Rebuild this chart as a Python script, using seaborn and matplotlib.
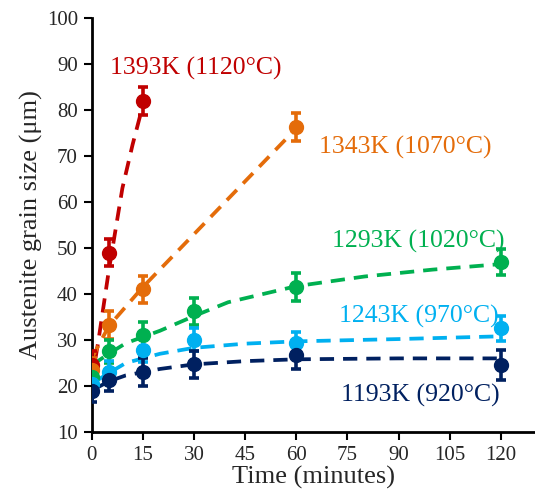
import matplotlib
matplotlib.use("Agg")
import matplotlib.pyplot as plt
import seaborn as sns
import pandas as pd

# Measured austenite grain size (um) vs holding time (minutes)
labels = ["1393K (1120°C)", "1343K (1070°C)", "1293K (1020°C)",
          "1243K (970°C)", "1193K (920°C)"]
colors = ["#C00000", "#E46C0A", "#00B050", "#00B0F0", "#002060"]

t_1393 = [0, 5, 15]
d_1393 = [24.5, 49.0, 82.0]
e_1393 = [3.0, 3.0, 3.0]

t_1343 = [0, 5, 15, 60]
d_1343 = [23.5, 33.3, 41.0, 76.3]
e_1343 = [2.5, 3.0, 3.0, 3.0]

t_1293 = [0, 5, 15, 30, 60, 120]
d_1293 = [22.0, 27.5, 31.0, 36.2, 41.5, 46.9]
e_1293 = [2.5, 2.5, 3.0, 3.0, 3.0, 2.8]

t_1243 = [0, 5, 15, 30, 60, 120]
d_1243 = [20.5, 23.0, 27.8, 30.0, 29.3, 32.5]
e_1243 = [2.5, 2.5, 2.5, 2.5, 2.5, 2.7]

t_1193 = [0, 5, 15, 30, 60, 120]
d_1193 = [19.0, 21.3, 23.0, 24.7, 26.7, 24.6]
e_1193 = [2.5, 2.5, 3.0, 3.0, 3.0, 3.2]

# Grain growth fit curves
ft_1393 = [0, 2, 5, 9, 12, 15]
fd_1393 = [21.0, 30.0, 45.0, 63.0, 72.5, 81.0]
ft_1343 = [0, 5, 15, 30, 45, 60]
fd_1343 = [26.0, 33.0, 41.5, 53.0, 64.5, 76.0]
ft_1293 = [0, 5, 10, 20, 30, 40, 60, 80, 100, 120]
fd_1293 = [24.5, 27.0, 29.3, 32.0, 35.2, 38.2, 41.7, 43.8, 45.3, 46.5]
ft_1243 = [0, 5, 10, 20, 30, 45, 60, 90, 120]
fd_1243 = [20.5, 22.8, 25.0, 27.0, 28.3, 29.2, 29.7, 30.2, 30.8]
ft_1193 = [0, 5, 10, 20, 30, 45, 60, 90, 120]
fd_1193 = [19.0, 21.0, 22.3, 23.7, 24.7, 25.4, 25.8, 26.0, 26.0]

x_ticks = [0, 15, 30, 45, 60, 75, 90, 105, 120]
y_ticks = [10, 20, 30, 40, 50, 60, 70, 80, 90, 100]

sns.set_style("ticks")
plt.rcParams["font.family"] = ["Liberation Serif", "DejaVu Serif"]

points = pd.concat([
    pd.DataFrame({"t": t, "d": d, "err": e, "series": lab})
    for t, d, e, lab in [
        (t_1393, d_1393, e_1393, labels[0]),
        (t_1343, d_1343, e_1343, labels[1]),
        (t_1293, d_1293, e_1293, labels[2]),
        (t_1243, d_1243, e_1243, labels[3]),
        (t_1193, d_1193, e_1193, labels[4]),
    ]
], ignore_index=True)

fits = pd.concat([
    pd.DataFrame({"t": t, "d": d, "series": lab})
    for t, d, lab in [
        (ft_1393, fd_1393, labels[0]),
        (ft_1343, fd_1343, labels[1]),
        (ft_1293, fd_1293, labels[2]),
        (ft_1243, fd_1243, labels[3]),
        (ft_1193, fd_1193, labels[4]),
    ]
], ignore_index=True)

palette = dict(zip(labels, colors))

fig = plt.figure(figsize=(5.35, 5.04), dpi=100)
ax = fig.add_axes([0.1714, 0.1429, 0.8286, 0.8214])

sns.lineplot(data=fits, x="t", y="d", hue="series", palette=palette,
             legend=False, ax=ax, linewidth=2.7, zorder=2)
for line in ax.get_lines():
    line.set_dashes((3.8, 2.4))

for lab in labels:
    sub = points[points["series"] == lab]
    ax.errorbar(sub["t"], sub["d"], yerr=sub["err"], fmt="o",
                color=palette[lab], markersize=10, elinewidth=2.6,
                capsize=3.8, capthick=2.6, zorder=3)

# Series labels
ax.text(5.3, 87.8, labels[0], color=colors[0], fontsize=18.5, va="baseline")
ax.text(66.8, 70.6, labels[1], color=colors[1], fontsize=18.5, va="baseline")
ax.text(70.6, 50.0, labels[2], color=colors[2], fontsize=18.5, va="baseline")
ax.text(72.6, 33.8, labels[3], color=colors[3], fontsize=18.5, va="baseline")
ax.text(73.0, 16.6, labels[4], color=colors[4], fontsize=18.5, va="baseline")

ax.set_xlim(0, 130)
ax.set_ylim(10, 100)
ax.set_xticks(x_ticks)
ax.set_yticks(y_ticks)
ax.tick_params(axis="both", labelsize=15, length=6, width=1.5,
               color="black", direction="out", pad=4)
for side in ["left", "bottom"]:
    ax.spines[side].set_linewidth(2)
    ax.spines[side].set_color("black")
sns.despine(ax=ax)

ax.set_xlabel("Time (minutes)", fontsize=19, labelpad=1)
ax.set_ylabel("Austenite grain size (μm)", fontsize=19, labelpad=3)

fig.savefig("out.png", dpi=100)
